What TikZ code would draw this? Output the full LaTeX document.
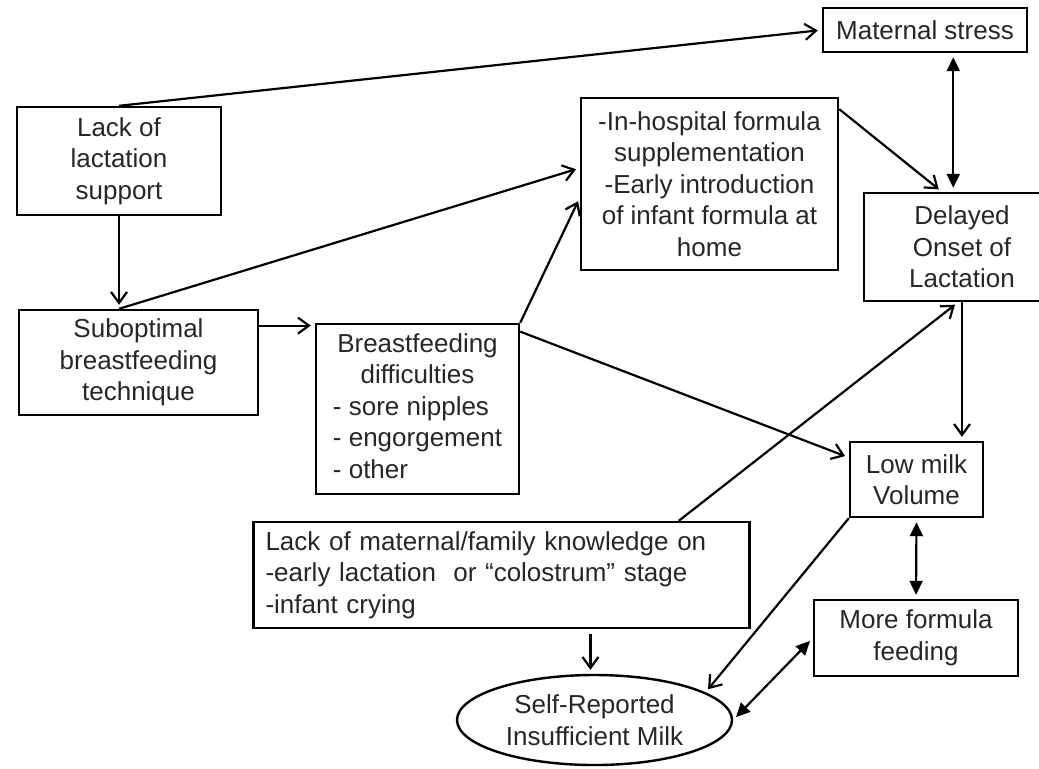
\documentclass[tikz,border=0pt]{standalone}
\usepackage{fontspec}
\setmainfont{Liberation Sans}
\usetikzlibrary{arrows.meta, shapes.geometric}

\begin{document}
\begin{tikzpicture}[x = 0.5pt, y = -0.5pt,
        box/.style = {draw, line width = 1.2pt, align = center, inner sep = 2pt,
            font = \fontsize{13}{15.75}\selectfont, text = black!85},
        oval/.style = {box, ellipse, inner sep = 0pt},
        arr/.style = {line width = 1.1pt, shorten > = 2pt,
            -{Straight Barb[length = 5.5pt, width = 8pt]}},
        dbl/.style = {line width = 1.1pt, shorten > = 2pt, shorten < = 2pt,
            {Triangle[length = 7pt, width = 6.5pt]}-{Triangle[length = 7pt, width = 6.5pt]}}]
        \useasboundingbox (0,0) rectangle (1039,768);
        \clip (0,0) rectangle (1039,768);

        \node (stress) at (925, 30) [box, minimum width = 102pt, minimum height = 22pt] {Maternal stress};
        \node (lack) at (119, 161) [box, minimum width = 102pt, minimum height = 54pt] {Lack of\\lactation\\support};
        \node (hosp) at (709.5, 184) [box, minimum width = 128.5pt, minimum height = 86pt] {-In-hospital formula\\supplementation\\-Early introduction\\of infant formula at\\home};
        \node (delay) at (962, 247) [box, minimum width = 98pt, minimum height = 54pt] {Delayed\\Onset of\\Lactation};
        \node (tech) at (138.5, 362.5) [box, minimum width = 119.5pt, minimum height = 52.5pt] {Suboptimal\\breastfeeding\\technique};
        \node (diff) at (417.5, 409) [box, minimum width = 101.5pt, minimum height = 85pt]
            {\begin{tabular}{@{}l@{}}
                \multicolumn{1}{@{}c@{}}{Breastfeeding}\\
                \multicolumn{1}{@{}c@{}}{difficulties}\\
                - sore nipples\\
                - engorgement\\
                - other
            \end{tabular}};
        \node (low) at (916.5, 479.5) [box, minimum width = 66.5pt, minimum height = 37.5pt] {Low milk\\Volume};
        \node (know) at (501.5, 575) [box, align = left, text width = 236pt, inner xsep = 6pt, minimum height = 53pt]
            {Lack of maternal/family knowledge on\\-early lactation\ \ or “colostrum” stage\\-infant crying};
        \node (more) at (916, 638) [box, minimum width = 102pt, minimum height = 38pt] {More formula\\feeding};
        \node (self) at (594.5, 720) [oval, minimum width = 137.5pt, minimum height = 45pt] {Self-Reported\\Insufficient Milk};

        \draw [arr] (lack.north) -- (stress.west);
        \draw [arr] (lack.south) -- (lack.south |- tech.north);
        \draw [arr] (lack.south |- tech.north) -- (hosp.173);
        \draw [arr] (tech.17) -- (tech.17 -| diff.west);
        \draw [arr] (diff.north east) -- (hosp.186);
        \draw [arr] (diff.37) -- (low.162);
        \draw [arr] (hosp.30) -- (delay.110);
        \draw [dbl] (stress.south -| delay.99) -- (delay.99);
        \draw [arr] (delay.south) -- (delay.south |- low.north);
        \draw [arr] (know.17.5) -- (delay.266);
        \draw [arr, shorten < = 2.5pt] (know.south -| self.95) -- (self.95);
        \draw [arr] (low.south west) -- (self.14);
        \draw [dbl] (low.south) -- (more.north);
        \draw [dbl] (more.west) -- (self.east);
    \end{tikzpicture}
\end{document}
